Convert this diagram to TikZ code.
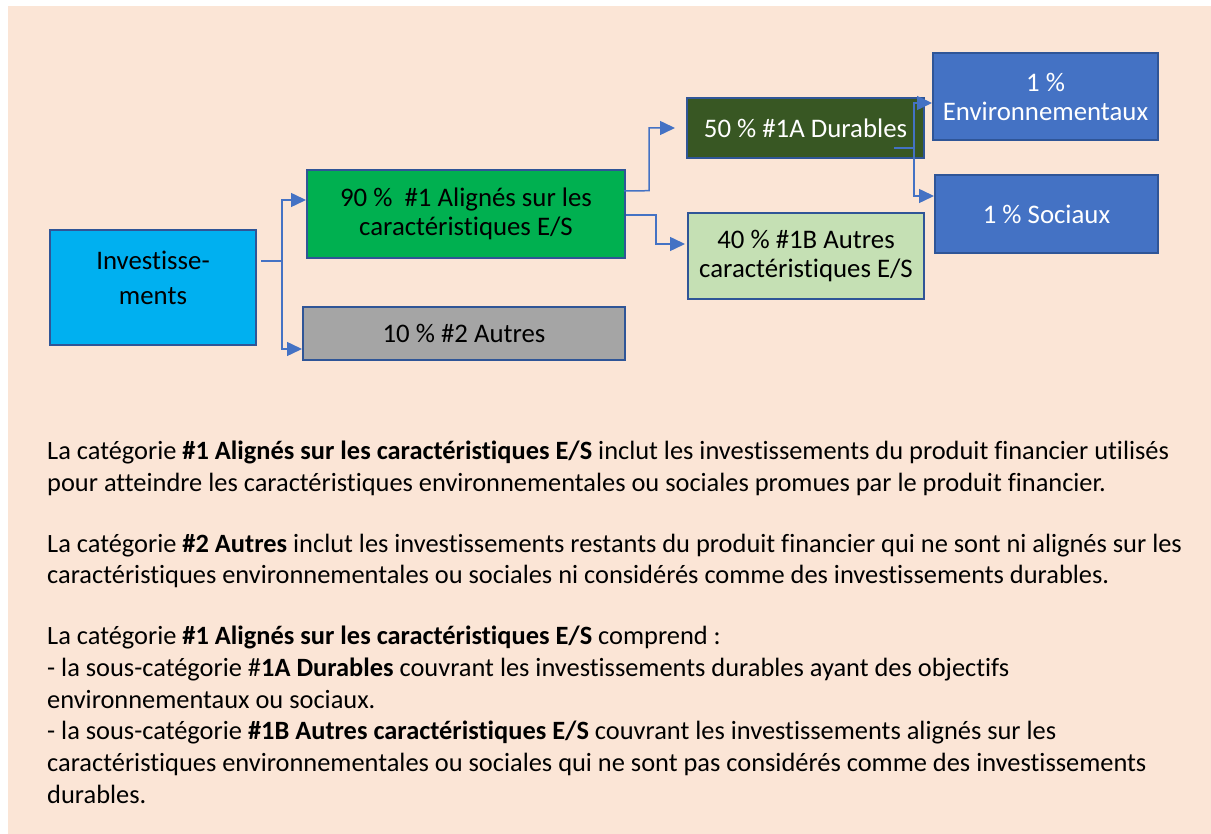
\documentclass[tikz,border=0pt]{standalone}
\usepackage{fontspec}
\setmainfont{Carlito}[Ligatures=NoCommon]
\usetikzlibrary{arrows.meta}
\definecolor{bgpeach}{HTML}{FBE5D6}
\definecolor{bordblue}{HTML}{2F5597}
\definecolor{linkblue}{HTML}{4472C4}
\definecolor{cyanfill}{HTML}{00B0F0}
\definecolor{greenfill}{HTML}{00B050}
\definecolor{grayfill}{HTML}{A5A5A5}
\definecolor{darkgreen}{HTML}{385723}
\definecolor{lightgreen}{HTML}{C5E0B4}
\definecolor{bluefill}{HTML}{4472C4}
\tikzset{
  boxnode/.style={draw=bordblue, line width=2pt, inner sep=0pt, align=center,
    font=\fontsize{26.8}{29}\selectfont},
  conn/.style={draw=linkblue, line width=1.5pt,
    -{Triangle[length=15pt,width=14pt]}},
  para/.style={anchor=base west, inner sep=0pt, font=\fontsize{26.4}{31}\selectfont}
}
\begin{document}
\begin{tikzpicture}[x=1pt,y=-1pt]
\useasboundingbox (0,0) rectangle (1211,834);
\fill[white] (0,0) rectangle (1211,834);
\fill[bgpeach] (8,6) rectangle (1211,834);

% boxes
\node[boxnode, fill=cyanfill, minimum width=206pt, minimum height=115pt] (inv) at (153,287.5) {};
\node[inner sep=0pt, align=center, font=\fontsize{26.8}{35}\selectfont] (invt) at (153,277.5) {Investisse-\\ments};
\node[boxnode, fill=greenfill, minimum width=318pt, minimum height=88pt] (p90) at (466,214) {90 \%\ \ \#1 Alignés sur les\\caractéristiques E/S};
\node[boxnode, fill=grayfill, minimum width=322pt, minimum height=53pt] (p10) at (464,333.5) {\raisebox{-6pt}{10 \% \#2 Autres}};
\node[boxnode, fill=darkgreen, text=white, minimum width=237pt, minimum height=60pt] (p50) at (805.5,128) {50 \% \#1A Durables};
\node[boxnode, fill=lightgreen, minimum width=236pt, minimum height=86pt] (p40) at (806,256) {40 \% \#1B Autres\\caractéristiques E/S};
\node[boxnode, fill=bluefill, text=white, minimum width=225pt, minimum height=87pt] (env) at (1045.5,96.5) {1 \%\\Environnementaux};
\node[boxnode, fill=bluefill, text=white, minimum width=223pt, minimum height=78pt] (soc) at (1046.5,214) {1 \% Sociaux};

% connectors
\coordinate (j1) at (282,261);
\draw[conn] ([xshift=4pt,yshift=26.5pt]inv.east) -- (j1) |- ([yshift=14pt]p90.west);
\draw[conn] (j1) |- ([yshift=-15.5pt]p10.west);
\coordinate (j2) at (649,190.7);
\draw[conn, shorten >=11pt] ([xshift=-2pt,yshift=23pt]p90.east) -- (j2) |- (p50.west);
\coordinate (j3) at (656,215);
\draw[conn, shorten >=2pt] ([yshift=-1pt]p90.east) -- (j3) |- ([yshift=12pt]p40.west);
\coordinate (j4) at (914,148);
\draw[conn] ([xshift=-31pt,yshift=-20pt]p50.east) -- (j4) |- ([yshift=-6.5pt]env.west);
\draw[conn] (j4) |- ([yshift=18pt]soc.west);

% text
\node[para] (t1) at (47,460) {La catégorie \textbf{\#1 Alignés sur les caractéristiques E/S} inclut les investissements du produit financier utilisés};
\node[para] (t2) at (47,491) {pour atteindre les caractéristiques environnementales ou sociales promues par le produit financier.};
\node[para] (t3) at (47,552) {La catégorie \textbf{\#2 Autres} inclut les investissements restants du produit financier qui ne sont ni alignés sur les};
\node[para] (t4) at (47,583) {caractéristiques environnementales ou sociales ni considérés comme des investissements durables.};
\node[para] (t5) at (47,644) {La catégorie \textbf{\#1 Alignés sur les caractéristiques E/S} comprend :};
\node[para] (t6) at (47,676) {- la sous-catégorie \#\textbf{1A Durables} couvrant les investissements durables ayant des objectifs};
\node[para] (t7) at (47,708) {environnementaux ou sociaux.};
\node[para] (t8) at (47,739) {- la sous-catégorie \textbf{\#1B Autres caractéristiques E/S} couvrant les investissements alignés sur les};
\node[para] (t9) at (47,771) {caractéristiques environnementales ou sociales qui ne sont pas considérés comme des investissements};
\node[para] (t10) at (47,803) {durables.};
\end{tikzpicture}
\end{document}
